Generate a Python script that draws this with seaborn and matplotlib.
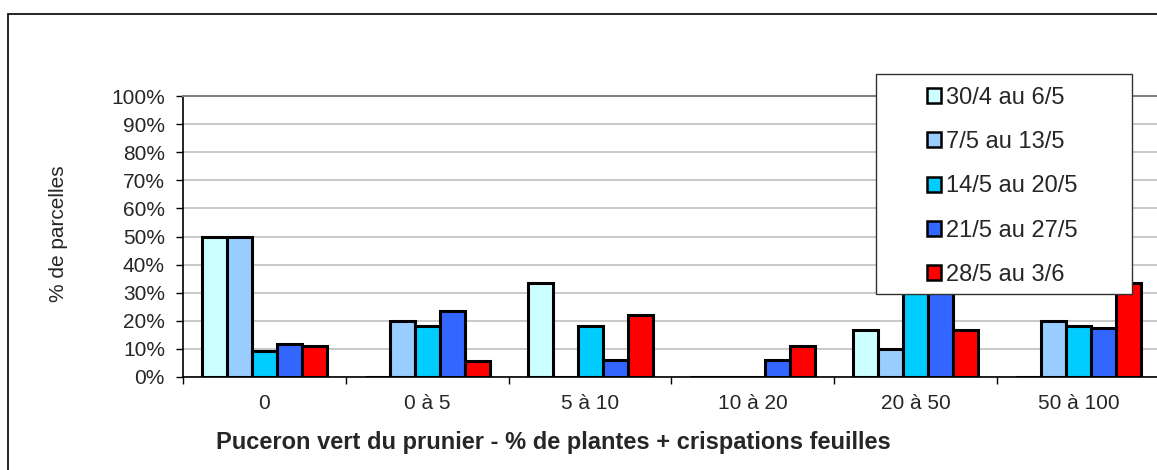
import numpy as np
import pandas as pd
import matplotlib
matplotlib.use("Agg")
import matplotlib.pyplot as plt
import matplotlib.patches as mpatches
import seaborn as sns

classes = ["0", "0 à 5", "5 à 10", "10 à 20", "20 à 50", "50 à 100"]
periodes = ["30/4 au 6/5", "7/5 au 13/5", "14/5 au 20/5", "21/5 au 27/5", "28/5 au 3/6"]
p1 = [50.0, 0.0, 33.3, 0.0, 16.7, 0.0]
p2 = [50.0, 20.0, 0.0, 0.0, 10.0, 20.0]
p3 = [9.1, 18.2, 18.2, 0.0, 36.4, 18.2]
p4 = [11.8, 23.5, 5.9, 5.9, 35.3, 17.6]
p5 = [11.1, 5.6, 22.2, 11.1, 16.7, 33.3]
couleurs = ["#CCFFFF", "#99CCFF", "#00CCFF", "#3366FF", "#FF0000"]

rows = []
for per, vals in zip(periodes, [p1, p2, p3, p4, p5]):
    for c, v in zip(classes, vals):
        rows.append({"classe": c, "periode": per, "val": v})
df = pd.DataFrame(rows)

sns.set_style("white")
plt.rcParams["font.family"] = ["Liberation Sans", "DejaVu Sans"]

W, H = 1157, 470
fig = plt.figure(figsize=(W / 100, H / 100), dpi=100)
ax = fig.add_axes([183 / W, (H - 377) / H, (1160 - 183) / W, (377 - 96) / H])

sns.barplot(data=df, x="classe", y="val", hue="periode", palette=couleurs,
            width=0.767, gap=0, edgecolor="black", linewidth=2.2,
            order=classes, hue_order=periodes, ax=ax, errorbar=None,
            saturation=1, zorder=3)

ax.set_xlim(-0.5, 5.5)
ax.set_ylim(0, 100)
ax.set_yticks(np.arange(0, 101, 10))
ax.set_yticklabels([f"{v}%" for v in range(0, 101, 10)], fontsize=15)
ax.yaxis.grid(True, color="#c0c0c0", linewidth=1.2, zorder=0)
ax.set_axisbelow(True)
ax.tick_params(axis="y", length=5, width=1, color="black", direction="out", pad=8, left=True)
ax.set_xticks(range(len(classes)))
ax.set_xticklabels(classes, fontsize=15)
ax.set_xticks(np.arange(-0.5, 6, 1), minor=True)
ax.tick_params(axis="x", which="major", length=0, pad=12)
ax.tick_params(axis="x", which="minor", length=5, width=1, color="black", bottom=True)

for s in ["top", "right"]:
    ax.spines[s].set_color("#808080")
    ax.spines[s].set_linewidth(1.5)
ax.spines["left"].set_color("black")
ax.spines["bottom"].set_color("black")
ax.spines["left"].set_linewidth(1.2)
ax.spines["bottom"].set_linewidth(1.2)

ax.set_xlabel("Puceron vert du prunier - % de plantes + crispations feuilles",
              fontsize=17, fontweight="bold")
ax.xaxis.set_label_coords((553 - 183) / 977, -(431 - 377) / 281)
ax.set_ylabel("% de parcelles", fontsize=15)
ax.yaxis.set_label_coords((68 - 183) / 977, (377 - 234) / 281)

ax.get_legend().remove()

# cadre de la légende
fig.patches.append(mpatches.Rectangle((876 / W, 1 - 294 / H), 256 / W, 220 / H,
                                      transform=fig.transFigure, facecolor="white",
                                      edgecolor="#333333", linewidth=1, zorder=4))
handles = [mpatches.Patch(facecolor=c, edgecolor="black", linewidth=1.8) for c in couleurs]
leg = fig.legend(handles, periodes, loc="upper left",
                 bbox_to_anchor=(927 / W, 1 - 87 / H), fontsize=17,
                 frameon=False, handlelength=0.6, handleheight=0.6,
                 handletextpad=0.2, labelspacing=0.94, borderpad=0,
                 borderaxespad=0)
leg.set_zorder(5)

fig.patches.append(mpatches.Rectangle((8 / W, -0.1), 1.2, 1.1 - 14 / H,
                                      transform=fig.transFigure, fill=False,
                                      edgecolor="black", linewidth=1.2))

fig.savefig("out.png", dpi=100)
